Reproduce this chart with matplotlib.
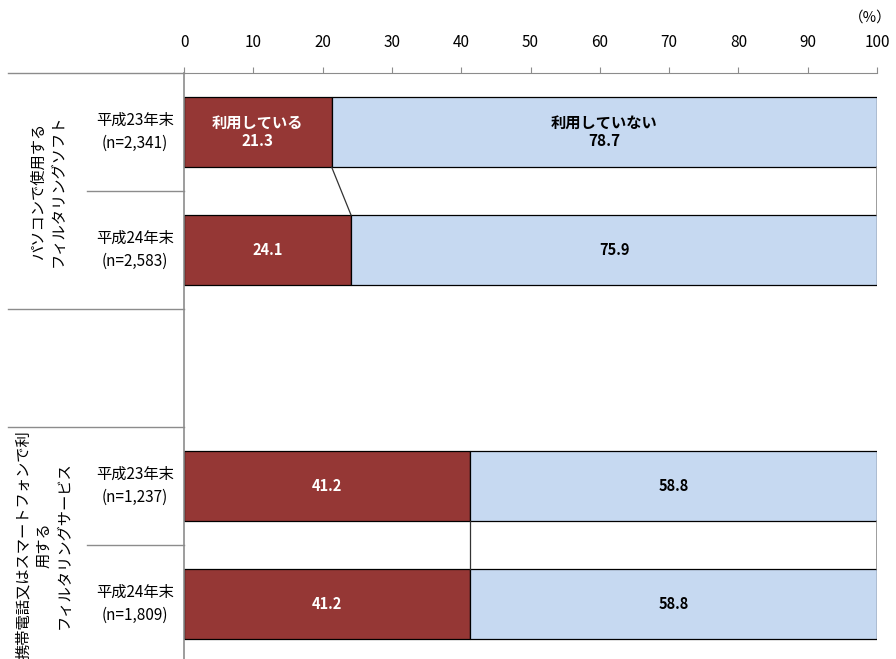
import matplotlib.pyplot as plt
import matplotlib.transforms as mtransforms

plt.rcParams['font.family'] = ['Noto Sans CJK JP', 'DejaVu Sans']

# data
groups = ['パソコンで使用する\nフィルタリングソフト',
          '携帯電話又はスマートフォンで利\n用する\nフィルタリングサービス']
labels = ['平成23年末\n(n=2,341)', '平成24年末\n(n=2,583)', '',
          '平成23年末\n(n=1,237)', '平成24年末\n(n=1,809)']
using = [21.3, 24.1, None, 41.2, 41.2]
not_using = [78.7, 75.9, None, 58.8, 58.8]
series_names = ['利用している', '利用していない']

red = '#953735'
blue = '#c6d9f1'
gray = '#8c8c8c'

fig = plt.figure(figsize=(8.96, 6.59), dpi=100)
W, H = 896, 659
ax = fig.add_axes([184 / W, 0, (877 - 184) / W, (659 - 73) / H])

bh = 0.593
for i, (u, n) in enumerate(zip(using, not_using)):
    if u is None:
        continue
    ax.barh(i, u, height=bh, color=red, edgecolor='black', linewidth=0.9)
    ax.barh(i, n, left=u, height=bh, color=blue, edgecolor='black', linewidth=0.9)
    if i == 0:
        t1 = series_names[0] + '\n' + f'{u:.1f}'
        t2 = series_names[1] + '\n' + f'{n:.1f}'
        fs = 11
    else:
        t1 = f'{u:.1f}'
        t2 = f'{n:.1f}'
        fs = 10.5
    ax.text(u / 2, i, t1, ha='center', va='center', color='white',
            fontweight='bold', fontsize=fs, linespacing=1.15)
    ax.text(u + n / 2, i, t2, ha='center', va='center', color='black',
            fontweight='bold', fontsize=fs, linespacing=1.15)

# series lines between bars of the same group
for a, b in [(0, 1), (3, 4)]:
    ax.plot([using[a], using[b]], [a + bh / 2, b - bh / 2], color='#333333', lw=0.9)
    ax.plot([100, 100], [a + bh / 2, b - bh / 2], color=gray, lw=1.2)

ax.set_xlim(0, 100)
ax.set_ylim(4.466, -0.5)
ax.set_xticks(range(0, 101, 10))
ax.xaxis.set_ticks_position('top')
ax.tick_params(axis='x', direction='out', length=4, color=gray, labelsize=11, pad=12)
ax.set_yticks([])
for s in ['right', 'bottom']:
    ax.spines[s].set_visible(False)
ax.spines['top'].set_color(gray)
ax.spines['left'].set_color(gray)
ax.spines['left'].set_linewidth(1.2)

ax.text(1.0 + 15 / 693, 1.0 + 55 / 586, '（%）', transform=ax.transAxes, ha='right',
        va='center', fontsize=10.5)

# category separators on the left
tr = mtransforms.blended_transform_factory(ax.transAxes, ax.transData)
x_long = (8 - 184) / 693
x_short = (87 - 184) / 693
for y, x0 in [(-0.5, x_long), (0.5, x_short), (1.5, x_long), (2.5, x_long), (3.5, x_short)]:
    ax.plot([x0, 0], [y, y], color=gray, lw=1.0, transform=tr, clip_on=False)

for i, lab in enumerate(labels):
    if lab:
        ax.text((135 - 184) / 693, i, lab, transform=tr, ha='center', va='center',
                fontsize=11, linespacing=1.45)

ax.text((48 - 184) / 693, 0.5, groups[0], transform=tr, ha='center', va='center',
        rotation=90, fontsize=11, linespacing=1.25)
ax.text((44 - 184) / 693, 3.5, groups[1], transform=tr, ha='center', va='center',
        rotation=90, fontsize=11, linespacing=1.25)

fig.savefig('out.png', dpi=100)
